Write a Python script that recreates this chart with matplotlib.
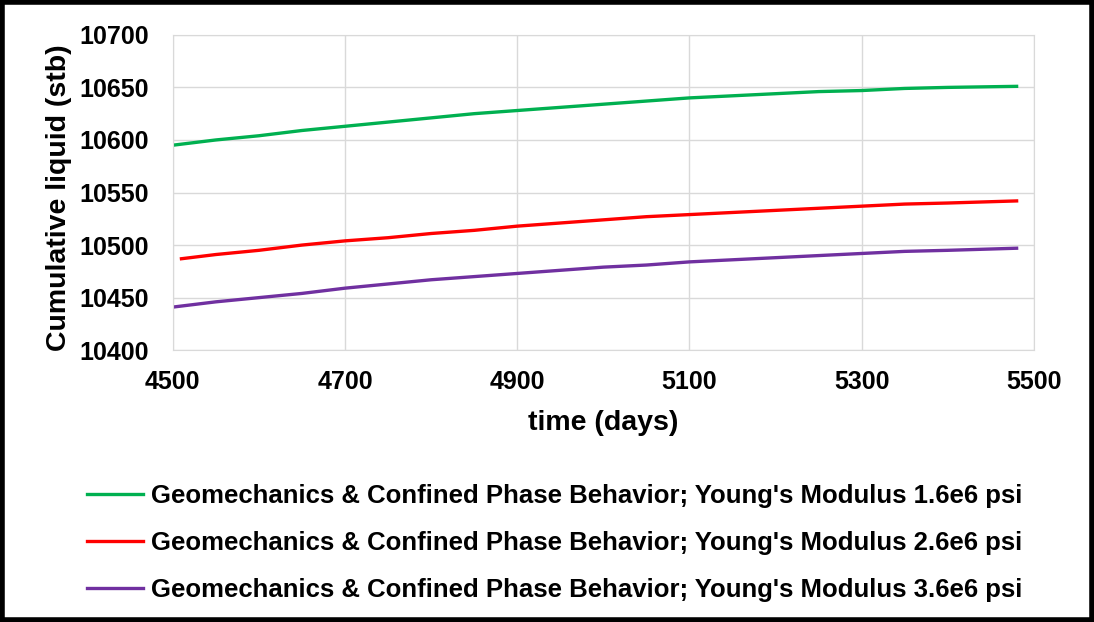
import matplotlib.pyplot as plt
from matplotlib.patches import Rectangle

# datos
t_green = [4500, 4550, 4600, 4650, 4700, 4750, 4800, 4850, 4900, 4950, 5000,
           5050, 5100, 5150, 5200, 5250, 5300, 5350, 5400, 5480]
q_green = [10595, 10600, 10604, 10609, 10613, 10617, 10621, 10625, 10628, 10631, 10634,
           10637, 10640, 10642, 10644, 10646, 10647, 10649, 10650, 10651]

t_red = [4510, 4550, 4600, 4650, 4700, 4750, 4800, 4850, 4900, 4950, 5000,
         5050, 5100, 5150, 5200, 5250, 5300, 5350, 5400, 5480]
q_red = [10487, 10491, 10495, 10500, 10504, 10507, 10511, 10514, 10518, 10521, 10524,
         10527, 10529, 10531, 10533, 10535, 10537, 10539, 10540, 10542]

t_purple = [4500, 4550, 4600, 4650, 4700, 4750, 4800, 4850, 4900, 4950, 5000,
            5050, 5100, 5150, 5200, 5250, 5300, 5350, 5400, 5480]
q_purple = [10441, 10446, 10450, 10454, 10459, 10463, 10467, 10470, 10473, 10476, 10479,
            10481, 10484, 10486, 10488, 10490, 10492, 10494, 10495, 10497]

labels = ["Geomechanics & Confined Phase Behavior; Young's Modulus 1.6e6 psi",
          "Geomechanics & Confined Phase Behavior; Young's Modulus 2.6e6 psi",
          "Geomechanics & Confined Phase Behavior; Young's Modulus 3.6e6 psi"]

plt.rcParams['font.family'] = ['Liberation Sans', 'DejaVu Sans']
plt.rcParams['font.weight'] = 'bold'

fig = plt.figure(figsize=(10.94, 6.22), dpi=100)
ax = fig.add_axes([0.158, 0.437, 0.787, 0.507])

l1, = ax.plot(t_green, q_green, color='#00B050', lw=2.4)
l2, = ax.plot(t_red, q_red, color='#FF0000', lw=2.4)
l3, = ax.plot(t_purple, q_purple, color='#7030A0', lw=2.4)

ax.set_xlim(4500, 5500)
ax.set_ylim(10400, 10700)
ax.set_xticks([4500, 4700, 4900, 5100, 5300, 5500])
ax.set_yticks(range(10400, 10701, 50))
ax.tick_params(length=0, labelsize=18)
ax.tick_params(axis='x', pad=14)
ax.tick_params(axis='y', pad=17)
ax.grid(True, color='#D9D9D9', lw=1)
ax.set_axisbelow(True)
for s in ax.spines.values():
    s.set_color('#D9D9D9')

ax.set_xlabel('time (days)', fontsize=20.5, fontweight='bold', labelpad=12)
ax.set_ylabel('Cumulative liquid (stb)', fontsize=20.5, fontweight='bold')
ax.yaxis.set_label_coords(-0.117, 0.483)

fig.legend([l1, l2, l3], labels, loc='upper left', bbox_to_anchor=(0.058, 0.259),
           frameon=False, handlelength=2.2, handletextpad=0.3,
           labelspacing=0.9, prop={'weight': 'bold', 'size': 18.5})

# borde negro
fig.patches.append(Rectangle((0.002, 0.003), 0.996, 0.994, transform=fig.transFigure,
                             fill=False, edgecolor='black', lw=4))

fig.savefig('out.png', dpi=100)
